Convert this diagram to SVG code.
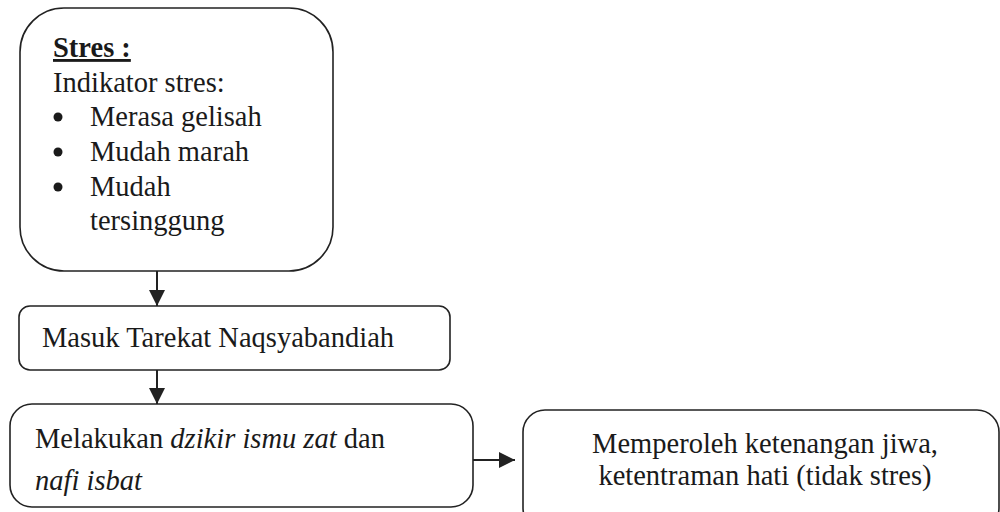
<svg xmlns="http://www.w3.org/2000/svg" width="1000" height="512" viewBox="0 0 1000 512">
  <style>
    .box { fill: #ffffff; stroke: #222222; stroke-width: 1.6; }
    .t { font-size: 28.5px; fill: #1a1a1a; }
    .b { font-weight: bold; text-decoration: underline; }
    .i { font-style: italic; }
    .c { text-anchor: middle; }
    .conn { stroke: #222222; stroke-width: 2; fill: none; }
  </style>
  <defs>
    <marker id="arrow" viewBox="0 0 16 16" refX="16" refY="8" markerWidth="16" markerHeight="16" markerUnits="userSpaceOnUse" orient="auto">
      <path d="M0,0 L16,8 L0,16 Z" fill="#222222"/>
    </marker>
  </defs>
  <rect width="1000" height="512" fill="#ffffff"/>

  <g id="connectors">
    <line class="conn" x1="157" y1="271" x2="157" y2="306" marker-end="url(#arrow)"/>
    <line class="conn" x1="157" y1="370" x2="157" y2="404" marker-end="url(#arrow)"/>
    <line class="conn" x1="473" y1="460" x2="515" y2="460" marker-end="url(#arrow)"/>
  </g>

  <g font-family="'Liberation Serif', 'Times New Roman', Times, serif">
  <g id="node-stres">
    <rect class="box" x="20" y="8" width="313" height="263" rx="44" ry="44"/>
    <text class="t b" x="53" y="57">Stres :</text>
    <text class="t" x="53" y="92">Indikator stres:</text>
    <circle cx="58" cy="117" r="4.5" fill="#1a1a1a"/>
    <text class="t" x="90" y="126">Merasa gelisah</text>
    <circle cx="58" cy="152" r="4.5" fill="#1a1a1a"/>
    <text class="t" x="90" y="161">Mudah marah</text>
    <circle cx="58" cy="187" r="4.5" fill="#1a1a1a"/>
    <text class="t" x="90" y="196">Mudah</text>
    <text class="t" x="90" y="230">tersinggung</text>
  </g>

  <g id="node-masuk">
    <rect class="box" x="19" y="306" width="431" height="64" rx="11" ry="11"/>
    <text class="t" x="42" y="347">Masuk Tarekat Naqsyabandiah</text>
  </g>

  <g id="node-dzikir">
    <rect class="box" x="10" y="404" width="463" height="103" rx="22" ry="22"/>
    <text class="t" x="35" y="448">Melakukan <tspan class="i">dzikir ismu zat</tspan> dan</text>
    <text class="t i" x="35" y="490">nafi isbat</text>
  </g>

  <g id="node-hasil">
    <rect class="box" x="523" y="410" width="476" height="120" rx="22" ry="22"/>
    <text class="t c" x="765" y="453">Memperoleh ketenangan jiwa,</text>
    <text class="t c" x="765" y="485">ketentraman hati (tidak stres)</text>
  </g>
  </g>
</svg>
